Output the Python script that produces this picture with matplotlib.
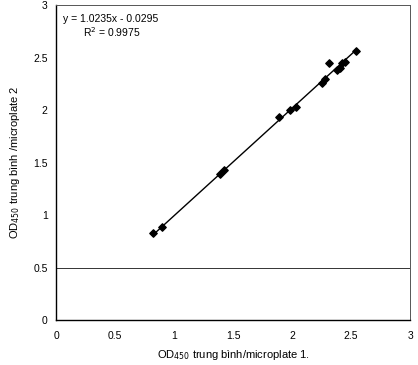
import numpy as np
import matplotlib.pyplot as plt

plt.rcParams['font.family'] = ['Liberation Sans', 'DejaVu Sans']

# OD450 readings, plate 1 vs plate 2
od_plate1 = [0.82, 0.90, 1.39, 1.42, 1.89, 1.98, 2.03, 2.25, 2.28, 2.31, 2.38, 2.41, 2.42, 2.45, 2.54]
od_plate2 = [0.83, 0.89, 1.39, 1.43, 1.93, 2.00, 2.03, 2.26, 2.30, 2.45, 2.38, 2.40, 2.45, 2.46, 2.56]

slope = 1.0235
intercept = -0.0295
r2 = 0.9975

ticks = [0, 0.5, 1, 1.5, 2, 2.5, 3]

fig = plt.figure(figsize=(4.18, 3.65), dpi=100)
ax = fig.add_axes([0.134, 0.123, 0.847, 0.863])

ax.axhline(0.5, color='#333333', lw=0.7, zorder=1)

xs = np.array([min(od_plate1), max(od_plate1)])
ax.plot(xs, slope * xs + intercept, color='black', lw=1.0, zorder=2)
ax.scatter(od_plate1, od_plate2, marker='D', s=14, color='black', zorder=3)

ax.text(0.02, 0.955, f"y = {slope}x - {abs(intercept)}", transform=ax.transAxes,
        fontsize=7.5, ha='left', va='center')
ax.text(0.075, 0.915, f"R$^2$ = {r2}", transform=ax.transAxes,
        fontsize=7.5, ha='left', va='center')

ax.set_xlim(0, 3)
ax.set_ylim(0, 3)
ax.set_xticks(ticks)
ax.set_yticks(ticks)
ax.set_xticklabels([f"{t:g}" for t in ticks])
ax.set_yticklabels([f"{t:g}" for t in ticks])
ax.tick_params(length=0, labelsize=7.5, pad=8)
ax.tick_params(axis='y', pad=6)

ax.set_xlabel("OD$_{450}$ trung bình/microplate 1.", fontsize=8, labelpad=5)
ax.set_ylabel("OD$_{450}$ trung bình /microplate 2", fontsize=8, labelpad=8)

for side in ['left', 'bottom']:
    ax.spines[side].set_color('black')
    ax.spines[side].set_linewidth(1.0)
for side in ['top', 'right']:
    ax.spines[side].set_color('#555555')
    ax.spines[side].set_linewidth(0.7)

fig.savefig('out.png', dpi=100)
